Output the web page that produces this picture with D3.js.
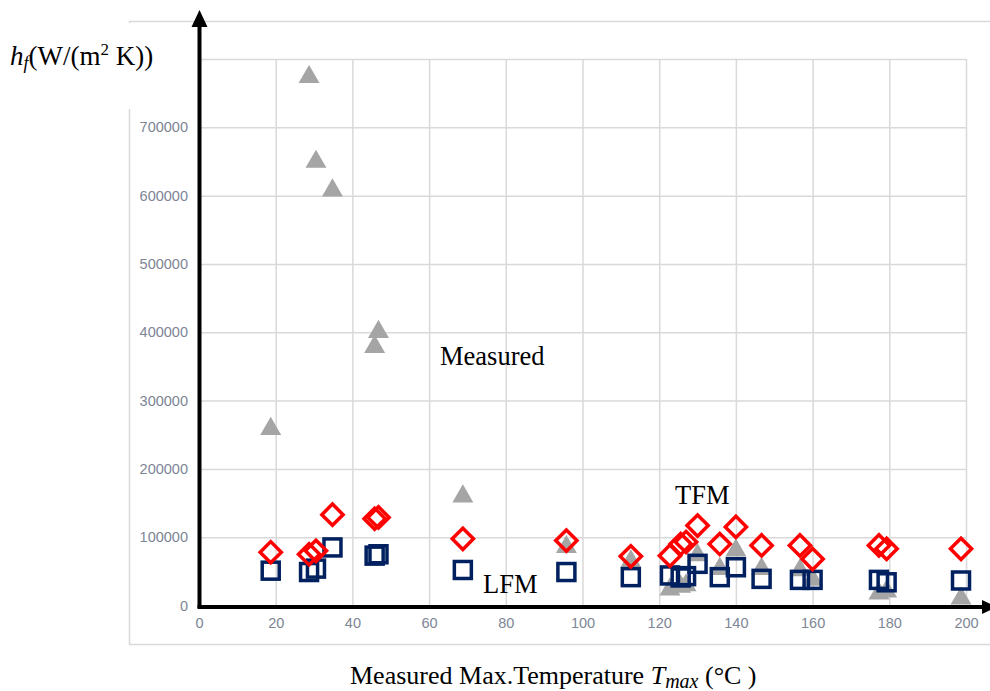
<!DOCTYPE html>
<html>
<head>
<meta charset="utf-8">
<script src="https://cdn.jsdelivr.net/npm/d3@7"></script>
<style>
  body { margin: 0; background: #fff; }
  .tick text { font-family: "Liberation Sans", Arial, sans-serif; font-size: 14.5px; fill: #7d8696; }
  .serif { font-family: "Liberation Serif", "Times New Roman", serif; fill: #000; }
</style>
</head>
<body>
<div id="chart"></div>
<script>
// test temperatures (shared by the three series)
var temps = [18.7, 28.7, 30.5, 34.8, 45.8, 46.8, 68.8, 95.8, 112.6, 122.8, 125.6, 127.0,
             130.0, 135.8, 140.0, 146.7, 156.7, 160.0, 177.3, 179.3, 198.7];
var measured = [263000, 778000, 654000, 612000, 383000, 405000, 164000, 90000, 69000, 28000, 32000, 34000,
                78000, 58000, 85000, 58000, 56000, 42000, 22000, 25000, 14600];
var tfm = [78000, 75000, 80000, 133000, 127000, 129000, 97600, 95000, 72000, 73000, 90000, 93000,
           117000, 90000, 115000, 88000, 88000, 68000, 88000, 83000, 83000];
var lfm = [51000, 49000, 54000, 85000, 73000, 75000, 52000, 49000, 41500, 44000, 41000, 43000,
           61000, 41500, 56000, 39000, 37500, 37500, 37500, 34000, 36600];
var xTicks = [0, 20, 40, 60, 80, 100, 120, 140, 160, 180, 200];
var yTicks = [0, 100000, 200000, 300000, 400000, 500000, 600000, 700000, 800000];

var width = 990, height = 691;

var svg = d3.select("#chart").append("svg")
    .attr("width", width)
    .attr("height", height);

var x = d3.scaleLinear().domain([0, 200]).range([199, 966]);
var y = d3.scaleLinear().domain([0, 800000]).range([605.5, 59]);

// chart area border
svg.append("path")
    .attr("d", "M990,21.5H129.5V644.5H990")
    .attr("fill", "none")
    .attr("stroke", "#d9d9d9")
    .attr("stroke-width", 1.5);

// gridlines + tick labels
var xAxis = svg.append("g")
    .attr("transform", "translate(0," + y(0) + ")")
    .call(d3.axisBottom(x).tickValues(xTicks).tickSize(-(y(0) - y(800000))).tickPadding(9).tickFormat(d3.format("d")));
var yAxis = svg.append("g")
    .attr("transform", "translate(" + x(0) + ",0)")
    .call(d3.axisLeft(y).tickValues(yTicks).tickSize(-(x(200) - x(0))).tickPadding(11).tickFormat(d3.format("d")));

[xAxis, yAxis].forEach(function (g) {
  g.select(".domain").remove();
  g.selectAll(".tick line").attr("stroke", "#d9d9d9").attr("stroke-width", 1.5);
});
xAxis.selectAll(".tick text").attr("dy", "0.95em");
// the 800000 label is hidden under the y title in the original
yAxis.selectAll(".tick text").filter(function (d) { return d == 800000; }).remove();
// white box of the y title covers the left border top
svg.append("rect").attr("x", 0).attr("y", 23).attr("width", 140).attr("height", 86).attr("fill", "#fff");

// markers
var sym = d3.symbol();
svg.append("g").selectAll("path")
    .data(d3.range(temps.length))
    .join("path")
    .attr("transform", function (i) { return "translate(" + x(temps[i]) + "," + (y(measured[i]) + 3) + ")"; })
    .attr("d", sym.type(d3.symbolTriangle).size(190))
    .attr("fill", "#a5a5a5");

svg.append("g").selectAll("rect")
    .data(d3.range(temps.length))
    .join("rect")
    .attr("x", function (i) { return x(temps[i]) - 8.5; })
    .attr("y", function (i) { return y(lfm[i]) - 8.5; })
    .attr("width", 17)
    .attr("height", 17)
    .attr("fill", "none")
    .attr("stroke", "#002060")
    .attr("stroke-width", 3.5);

svg.append("g").selectAll("path")
    .data(d3.range(temps.length))
    .join("path")
    .attr("transform", function (i) { return "translate(" + x(temps[i]) + "," + y(tfm[i]) + ") rotate(45)"; })
    .attr("d", "M-7.5,-7.5H7.5V7.5H-7.5Z")
    .attr("fill", "none")
    .attr("stroke", "#ff0000")
    .attr("stroke-width", 3.5);

// black arrow axes
svg.append("line").attr("x1", 199.5).attr("y1", 608).attr("x2", 199.5).attr("y2", 24)
    .attr("stroke", "#000").attr("stroke-width", 4);
svg.append("path").attr("d", "M199.5,10L207.5,27H191.5Z").attr("fill", "#000");
svg.append("line").attr("x1", 197.5).attr("y1", 607).attr("x2", 984).attr("y2", 607)
    .attr("stroke", "#000").attr("stroke-width", 4);
svg.append("path").attr("d", "M997,607L982,600V614Z").attr("fill", "#000");

// annotations
function label(tx, ty, t) {
  return svg.append("text").attr("class", "serif").attr("x", tx).attr("y", ty)
      .attr("font-size", 26.5).text(t);
}
label(440, 365, "Measured");
label(675, 504, "TFM");
label(483, 593, "LFM");

var xt = svg.append("text").attr("class", "serif").attr("x", 350).attr("y", 684).attr("font-size", 26);
xt.append("tspan").text("Measured Max.Temperature ");
xt.append("tspan").attr("font-style", "italic").text("T");
xt.append("tspan").attr("font-style", "italic").attr("font-size", 20).attr("dy", 4).text("max");
xt.append("tspan").attr("dy", -4).text(" (°C )");

var yt = svg.append("text").attr("class", "serif").attr("x", 10).attr("y", 65).attr("font-size", 27);
yt.append("tspan").attr("font-style", "italic").text("h");
yt.append("tspan").attr("font-style", "italic").attr("font-size", 18).attr("dy", 4).text("f");
yt.append("tspan").attr("dy", -4).text("(W/(m");
yt.append("tspan").attr("font-size", 17).attr("dy", -10).text("2");
yt.append("tspan").attr("dy", 10).text(" K))");
</script>
</body>
</html>
